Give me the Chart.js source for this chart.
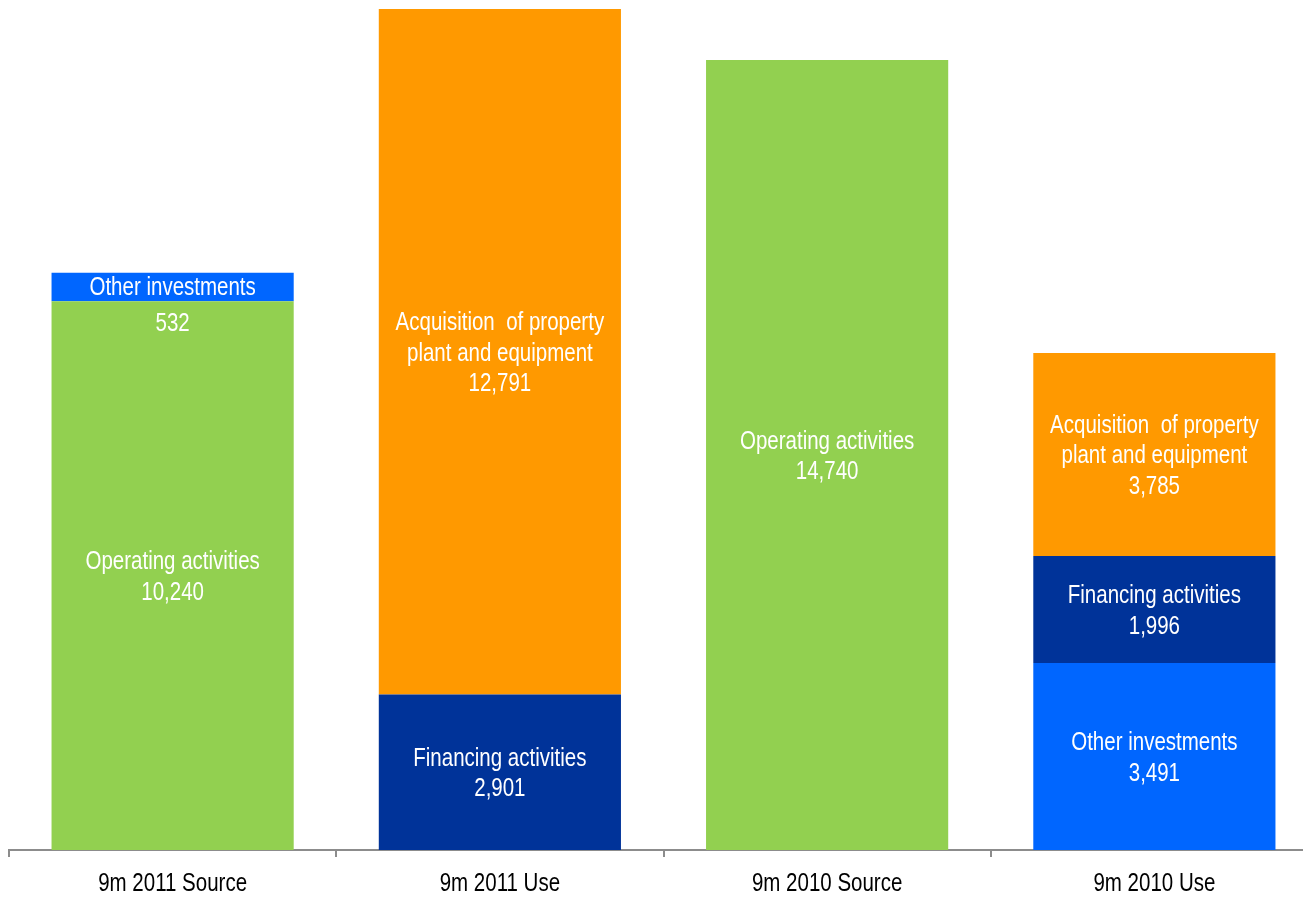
<!DOCTYPE html>
<html>
<head>
<meta charset="utf-8">
<script src="https://cdn.jsdelivr.net/npm/chart.js@4.4.0/dist/chart.umd.min.js"></script>
<style>
  body { margin: 0; background: #fff; overflow: hidden; }
  #wrap { width: 1318px; height: 897px; }
</style>
</head>
<body>
<div id="wrap"><canvas id="myChart"></canvas></div>
<script>
const categories = ['9m 2011 Source', '9m 2011 Use', '9m 2010 Source', '9m 2010 Use'];

// stacked layers, bottom to top
const layer1 = [10240, 2901, 14740, 3491];
const layer2 = [532, 12791, null, 1996];
const layer3 = [null, null, null, 3785];

const layer1Names = ['Operating activities', 'Financing activities', 'Operating activities', 'Other investments'];
const layer2Names = ['Other investments', 'Acquisition  of property\nplant and equipment', '', 'Financing activities'];
const layer3Names = ['', '', '', 'Acquisition  of property\nplant and equipment'];

const GREEN = '#92D050', ORANGE = '#FF9900', NAVY = '#003399', BLUE = '#0066FF';
const layer1Colors = [GREEN, NAVY, GREEN, BLUE];
const layer2Colors = [BLUE, ORANGE, GREEN, NAVY];
const layer3Colors = [ORANGE, ORANGE, ORANGE, ORANGE];

const FONT = "'Liberation Sans', Arial, sans-serif";
const SQUEEZE = 0.82; // fake Arial Narrow

function fmt(v) {
  return v.toLocaleString('en-US');
}

// draw centred text squeezed horizontally
function narrowText(c, t, x, y) {
  c.save();
  c.translate(x, y);
  c.scale(SQUEEZE, 1);
  c.fillText(t, 0, 0);
  c.restore();
}

const segLabels = {
  id: 'segLabels',
  afterDatasetsDraw(chart) {
    const c = chart.ctx;
    c.save();
    c.fillStyle = '#fff';
    c.font = '25px ' + FONT;
    c.textAlign = 'center';
    c.textBaseline = 'middle';
    const lh = 30.5;
    chart.data.datasets.forEach((ds, i) => {
      const meta = chart.getDatasetMeta(i);
      meta.data.forEach((el, j) => {
        const v = ds.data[j];
        if (v == null) return;
        const lines = ds.names[j].split('\n').concat([fmt(v)]);
        const top = Math.min(el.y, el.base), bottom = Math.max(el.y, el.base);
        const mid = (top + bottom) / 2 + 2;
        if (bottom - top < lines.length * lh) {
          // thin segment: name inside, value just below it
          narrowText(c, lines[0], el.x, mid - 1);
          narrowText(c, lines[1], el.x, mid + 35);
          return;
        }
        const y0 = mid - (lines.length - 1) * lh / 2;
        lines.forEach((t, k) => narrowText(c, t, el.x, y0 + k * lh));
      });
    });
    // category labels under the axis
    const xs = chart.scales.x;
    c.fillStyle = '#000';
    categories.forEach((t, i) => {
      narrowText(c, t, xs.getPixelForValue(i), xs.top + 34);
    });
    c.restore();
  }
};

const ctx = document.getElementById('myChart');
new Chart(ctx, {
  type: 'bar',
  data: {
    labels: categories,
    datasets: [
      { data: layer1, names: layer1Names, backgroundColor: layer1Colors },
      { data: layer2, names: layer2Names, backgroundColor: layer2Colors },
      { data: layer3, names: layer3Names, backgroundColor: layer3Colors }
    ]
  },
  options: {
    responsive: true,
    maintainAspectRatio: false,
    animation: false,
    layout: { padding: { top: 9, left: 9, right: 0, bottom: 0 } },
    datasets: { bar: { categoryPercentage: 1, barPercentage: 0.74 } },
    plugins: { legend: { display: false }, tooltip: { enabled: false } },
    scales: {
      x: {
        stacked: true,
        offset: true,
        border: { color: '#8c8c8c', width: 2 },
        grid: { offset: true, drawOnChartArea: false, color: '#8c8c8c', tickLength: 7, lineWidth: 2 },
        ticks: { display: false },
        afterFit(scale) { scale.height = 47; }
      },
      y: {
        stacked: true,
        display: false,
        min: 0,
        max: 15692
      }
    }
  },
  plugins: [segLabels]
});
</script>
</body>
</html>
